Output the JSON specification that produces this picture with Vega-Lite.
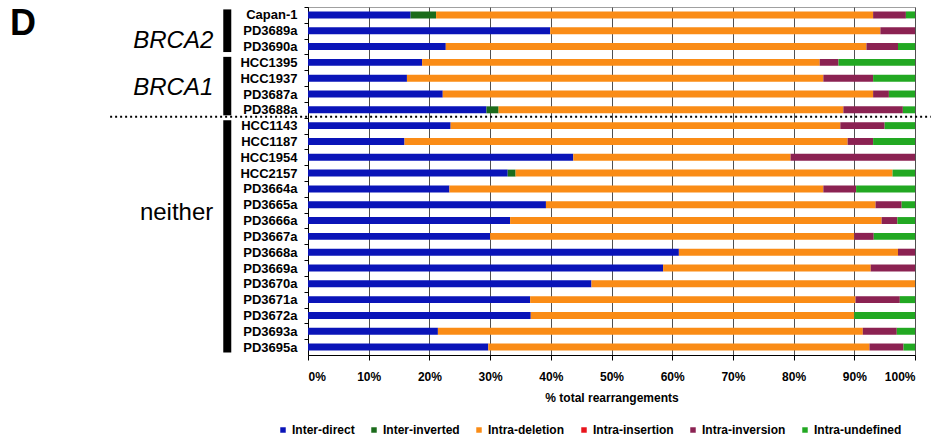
{
  "$schema": "https://vega.github.io/schema/vega-lite/v6.json",
  "width": 607,
  "height": 348,
  "autosize": {"type": "none"},
  "padding": {"left": 308, "top": 7, "right": 16, "bottom": 85},
  "background": "white",
  "config": {
    "view": {"stroke": "#a0a0a0", "strokeWidth": 1},
    "font": "Liberation Sans"
  },
  "layer": [
    {
      "data": {"values": [
        {"s": "Capan-1", "Inter-direct": 16.9, "Inter-inverted": 4.2, "Intra-deletion": 72.0, "Intra-insertion": 0, "Intra-inversion": 5.4, "Intra-undefined": 1.5},
        {"s": "PD3689a", "Inter-direct": 39.9, "Inter-inverted": 0, "Intra-deletion": 54.4, "Intra-insertion": 0, "Intra-inversion": 5.7, "Intra-undefined": 0},
        {"s": "PD3690a", "Inter-direct": 22.7, "Inter-inverted": 0, "Intra-deletion": 69.3, "Intra-insertion": 0, "Intra-inversion": 5.2, "Intra-undefined": 2.8},
        {"s": "HCC1395", "Inter-direct": 18.8, "Inter-inverted": 0, "Intra-deletion": 65.5, "Intra-insertion": 0, "Intra-inversion": 3.1, "Intra-undefined": 12.6},
        {"s": "HCC1937", "Inter-direct": 16.3, "Inter-inverted": 0, "Intra-deletion": 68.6, "Intra-insertion": 0, "Intra-inversion": 8.2, "Intra-undefined": 6.9},
        {"s": "PD3687a", "Inter-direct": 22.2, "Inter-inverted": 0, "Intra-deletion": 70.9, "Intra-insertion": 0, "Intra-inversion": 2.6, "Intra-undefined": 4.3},
        {"s": "PD3688a", "Inter-direct": 29.4, "Inter-inverted": 2.0, "Intra-deletion": 56.8, "Intra-insertion": 0, "Intra-inversion": 9.8, "Intra-undefined": 2.0},
        {"s": "HCC1143", "Inter-direct": 23.5, "Inter-inverted": 0, "Intra-deletion": 64.2, "Intra-insertion": 0, "Intra-inversion": 7.3, "Intra-undefined": 5.0},
        {"s": "HCC1187", "Inter-direct": 15.9, "Inter-inverted": 0, "Intra-deletion": 73.0, "Intra-insertion": 0, "Intra-inversion": 4.2, "Intra-undefined": 6.9},
        {"s": "HCC1954", "Inter-direct": 43.7, "Inter-inverted": 0, "Intra-deletion": 35.8, "Intra-insertion": 0, "Intra-inversion": 20.5, "Intra-undefined": 0},
        {"s": "HCC2157", "Inter-direct": 32.9, "Inter-inverted": 1.3, "Intra-deletion": 62.1, "Intra-insertion": 0, "Intra-inversion": 0, "Intra-undefined": 3.7},
        {"s": "PD3664a", "Inter-direct": 23.3, "Inter-inverted": 0, "Intra-deletion": 61.6, "Intra-insertion": 0, "Intra-inversion": 5.4, "Intra-undefined": 9.7},
        {"s": "PD3665a", "Inter-direct": 39.2, "Inter-inverted": 0, "Intra-deletion": 54.3, "Intra-insertion": 0, "Intra-inversion": 4.3, "Intra-undefined": 2.2},
        {"s": "PD3666a", "Inter-direct": 33.3, "Inter-inverted": 0, "Intra-deletion": 61.2, "Intra-insertion": 0, "Intra-inversion": 2.6, "Intra-undefined": 2.9},
        {"s": "PD3667a", "Inter-direct": 30.0, "Inter-inverted": 0, "Intra-deletion": 60.0, "Intra-insertion": 0, "Intra-inversion": 3.2, "Intra-undefined": 6.8},
        {"s": "PD3668a", "Inter-direct": 61.1, "Inter-inverted": 0, "Intra-deletion": 36.1, "Intra-insertion": 0, "Intra-inversion": 2.8, "Intra-undefined": 0},
        {"s": "PD3669a", "Inter-direct": 58.5, "Inter-inverted": 0, "Intra-deletion": 34.2, "Intra-insertion": 0, "Intra-inversion": 7.3, "Intra-undefined": 0},
        {"s": "PD3670a", "Inter-direct": 46.7, "Inter-inverted": 0, "Intra-deletion": 53.3, "Intra-insertion": 0, "Intra-inversion": 0, "Intra-undefined": 0},
        {"s": "PD3671a", "Inter-direct": 36.6, "Inter-inverted": 0, "Intra-deletion": 53.6, "Intra-insertion": 0, "Intra-inversion": 7.3, "Intra-undefined": 2.5},
        {"s": "PD3672a", "Inter-direct": 36.7, "Inter-inverted": 0, "Intra-deletion": 53.3, "Intra-insertion": 0, "Intra-inversion": 0, "Intra-undefined": 10.0},
        {"s": "PD3693a", "Inter-direct": 21.4, "Inter-inverted": 0, "Intra-deletion": 70.0, "Intra-insertion": 0, "Intra-inversion": 5.6, "Intra-undefined": 3.0},
        {"s": "PD3695a", "Inter-direct": 29.7, "Inter-inverted": 0, "Intra-deletion": 62.8, "Intra-insertion": 0, "Intra-inversion": 5.6, "Intra-undefined": 1.9}
      ]},
      "transform": [
        {"fold": ["Inter-direct", "Inter-inverted", "Intra-deletion", "Intra-insertion", "Intra-inversion", "Intra-undefined"], "as": ["type", "pct"]}
      ],
      "mark": {"type": "bar", "height": {"band": 0.44}},
      "encoding": {
        "y": {
          "field": "s", "type": "nominal",
          "scale": {
            "domain": ["Capan-1", "PD3689a", "PD3690a", "HCC1395", "HCC1937", "PD3687a", "PD3688a", "HCC1143", "HCC1187", "HCC1954", "HCC2157", "PD3664a", "PD3665a", "PD3666a", "PD3667a", "PD3668a", "PD3669a", "PD3670a", "PD3671a", "PD3672a", "PD3693a", "PD3695a"],
            "paddingInner": 0, "paddingOuter": 0
          },
          "axis": {
            "title": null,
            "labelFont": "Liberation Sans", "labelFontSize": 13, "labelFontWeight": "bold", "labelColor": "black",
            "labelPadding": 7, "tickSize": 4, "tickColor": "black", "tickOffset": -7.9, "labelOffset": 7.9,
            "domainColor": "black", "grid": false
          }
        },
        "x": {
          "field": "pct", "type": "quantitative", "stack": "zero",
          "scale": {"domain": [0, 100], "nice": false},
          "axis": {
            "values": [0, 10, 20, 30, 40, 50, 60, 70, 80, 90, 100],
            "labelExpr": "datum.value + '%'",
            "labelFont": "Liberation Sans", "labelFontSize": 12, "labelFontWeight": "bold", "labelColor": "black",
            "labelPadding": 11, "tickSize": 5, "tickColor": "black", "domainColor": "black",
            "grid": true, "gridColor": "#505050", "gridWidth": 1, "gridOpacity": 1,
            "title": "% total rearrangements",
            "titleFont": "Liberation Sans", "titleFontSize": 12, "titleFontWeight": "bold", "titleColor": "black", "titlePadding": 10
          }
        },
        "color": {
          "field": "type", "type": "nominal",
          "scale": {
            "domain": ["Inter-direct", "Inter-inverted", "Intra-deletion", "Intra-insertion", "Intra-inversion", "Intra-undefined"],
            "range": ["#0A14B8", "#1B6B1B", "#FA8C16", "#E8141C", "#8B2252", "#22A822"]
          },
          "legend": {
            "title": null, "orient": "none", "legendX": -31, "legendY": 417,
            "direction": "horizontal", "columns": 6, "columnPadding": 13,
            "symbolType": "square", "symbolSize": 30, "symbolStrokeWidth": 0, "symbolOffset": 0,
            "labelFont": "Liberation Sans", "labelFontSize": 12, "labelFontWeight": "bold", "labelColor": "black", "labelOffset": 3,
            "padding": 0
          }
        }
      }
    },
    {
      "data": {"values": [
        {"g": "BRCA2", "a": "Capan-1", "b": "PD3690a", "x": -13.3},
        {"g": "BRCA1", "a": "HCC1395", "b": "PD3688a", "x": -13.3},
        {"g": "neither", "a": "HCC1143", "b": "PD3695a", "x": -13.3}
      ]},
      "mark": {"type": "rule", "color": "black", "strokeWidth": 8, "strokeCap": "butt", "yOffset": -5.5, "y2Offset": 5.5},
      "encoding": {
        "x": {"field": "x", "type": "quantitative"},
        "y": {"field": "a", "type": "nominal"},
        "y2": {"field": "b"}
      }
    },
    {
      "data": {"values": [
        {"label": "BRCA2", "at": "PD3689a", "x": -15.6},
        {"label": "BRCA1", "at": "HCC1937", "x": -15.6}
      ]},
      "mark": {"type": "text", "align": "right", "baseline": "middle", "fontStyle": "italic", "fontSize": 24, "font": "Liberation Sans", "color": "black", "dy": 2},
      "encoding": {
        "x": {"field": "x", "type": "quantitative"},
        "y": {"field": "at", "type": "nominal", "bandPosition": 1},
        "text": {"field": "label"}
      }
    },
    {
      "data": {"values": [
        {"label": "neither", "at": "PD3665a", "x": -15.6}
      ]},
      "mark": {"type": "text", "align": "right", "baseline": "middle", "fontSize": 24, "font": "Liberation Sans", "color": "black"},
      "encoding": {
        "x": {"field": "x", "type": "quantitative"},
        "y": {"field": "at", "type": "nominal", "bandPosition": 1},
        "text": {"field": "label"}
      }
    },
    {
      "data": {"values": [
        {"label": "D", "at": "Capan-1", "x": -49.1}
      ]},
      "mark": {"type": "text", "align": "left", "baseline": "middle", "fontSize": 36, "fontWeight": "bold", "font": "Liberation Sans", "color": "black", "dy": 1},
      "encoding": {
        "x": {"field": "x", "type": "quantitative"},
        "y": {"field": "at", "type": "nominal", "bandPosition": 1},
        "text": {"field": "label"}
      }
    },
    {
      "data": {"values": [
        {"from": -32.6, "to": 102.6, "at": "HCC1143"}
      ]},
      "mark": {"type": "rule", "color": "black", "strokeWidth": 2, "strokeDash": [2, 3], "yOffset": -1},
      "encoding": {
        "x": {"field": "from", "type": "quantitative"},
        "x2": {"field": "to"},
        "y": {"field": "at", "type": "nominal", "bandPosition": 0}
      }
    }
  ]
}
